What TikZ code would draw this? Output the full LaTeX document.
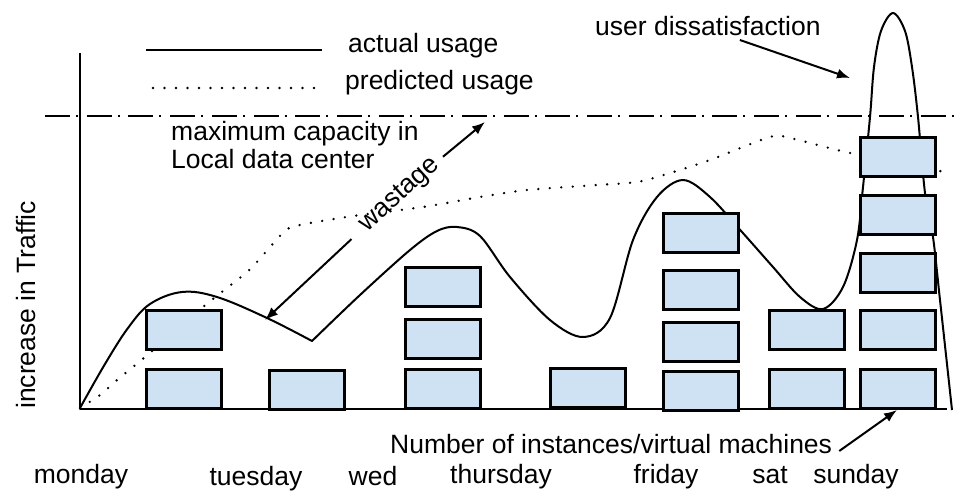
\documentclass[tikz,border=0pt]{standalone}
\usepackage{fontspec}
\setmainfont{Liberation Sans}
\usetikzlibrary{arrows.meta}
\definecolor{vmfill}{HTML}{CFE2F3}

\begin{document}
\begin{tikzpicture}[
        x=1pt, y=-1pt,
        every node/.style={font=\fontsize{26.5}{28}\selectfont, inner sep=0pt},
        vm/.style={draw, line width=2.5pt, fill=vmfill, minimum width=75pt, minimum height=39pt},
        usage/.style={line width=2pt, line join=round},
        predicted/.style={line width=2.6pt, line cap=round, dash pattern=on 0pt off 11.5pt},
        capacity/.style={line width=2.5pt, dash pattern=on 25pt off 6pt on 2pt off 8.7pt},
        arr/.style={line width=2pt, -{Latex[length=13pt, width=10pt]}}
      ]
      \useasboundingbox (0,0) rectangle (954,491);

      \draw[usage] (80,53) -- (80,409) -- (947,409);
      \node[rotate=90, anchor=base] (traffic) at (35,305) {increase in Traffic};

      \draw[usage] (146,50) -- (322,50);
      \node[anchor=base west] (actual) at (348,52) {actual usage};
      \draw[predicted] (153,88) -- (318,88);
      \node[anchor=base west] (pred) at (345,89) {predicted usage};

      \draw[capacity] (45,116) -- (954,116);
      \node[anchor=base west] (cap) at (171,140) {maximum capacity in};
      \node[anchor=base west] (capb) at (171,168) {Local data center};

      \draw[predicted] plot[smooth, tension=0.5] coordinates {(80,408) (100,395) (117,380) (145,357)
        (203,307) (247,272) (263,255) (285,231) (300,225) (353,216) (423,207) (480,197) (527,190)
        (597,185) (637,182) (670,173) (710,160) (770,137) (790,138) (850,153) (950,173)};

      \draw[usage] plot[smooth, tension=0.6] coordinates {(80,408) (105,364) (128,328)
        (150,304) (182,292) (217,297) (267,318) (312,341)}
        -- plot[smooth, tension=0.55] coordinates {(312,341) (360,295) (410,250) (437,231) (457,227)
        (480,236) (510,277) (550,320) (583,337) (610,318) (633,240) (657,197) (683,180) (710,197)
        (742,232) (773,267) (800,297) (823,309) (843,287) (857,240) (863,187) (870,117) (874,67)
        (881,31) (893,13) (905,31) (912,67) (918,117) (925,193) (933,237) (940,300) (952,410)};

      \foreach \x/\y [count=\i] in {184/330, 184/389, 307/390, 443/287, 443/339, 443/389, 588/388,
        701/233, 701/290, 701/342, 701/391, 807/330, 807/389,
        898/157, 898/215, 898/273, 898/330, 898/389}
        \node[vm] (vm\i) at (\x,\y) {};

      \node[rotate=42] (wastage) at (400,195) {wastage};
      \coordinate (wlow) at (265,320);
      \coordinate (wtop) at (485,122);
      \draw[arr, shorten <=16pt] (wastage.west) -- (wlow);
      \draw[arr, shorten <=8pt] (wastage.east) -- (wtop);

      \node[anchor=base west] (user) at (595,35) {user dissatisfaction};
      \coordinate (peak) at (850,78);
      \draw[arr] ([xshift=32pt, yshift=-5pt]user.base) -- (peak);

      \node[anchor=base west] (num) at (390,453) {Number of instances/virtual machines};
      \coordinate (vmtip) at (897,410);
      \draw[arr] ([xshift=7pt, yshift=2pt]num.base east) -- (vmtip);

      \node[anchor=base] (monday) at (81,483) {monday};
      \foreach \d/\x/\y in {tuesday/256/485, wed/373/485, thursday/501/483, friday/666/483,
        sat/770/483, sunday/856/483}
        \node[anchor=base] (\d) at (\x,\y) {\d};
    \end{tikzpicture}
\end{document}
